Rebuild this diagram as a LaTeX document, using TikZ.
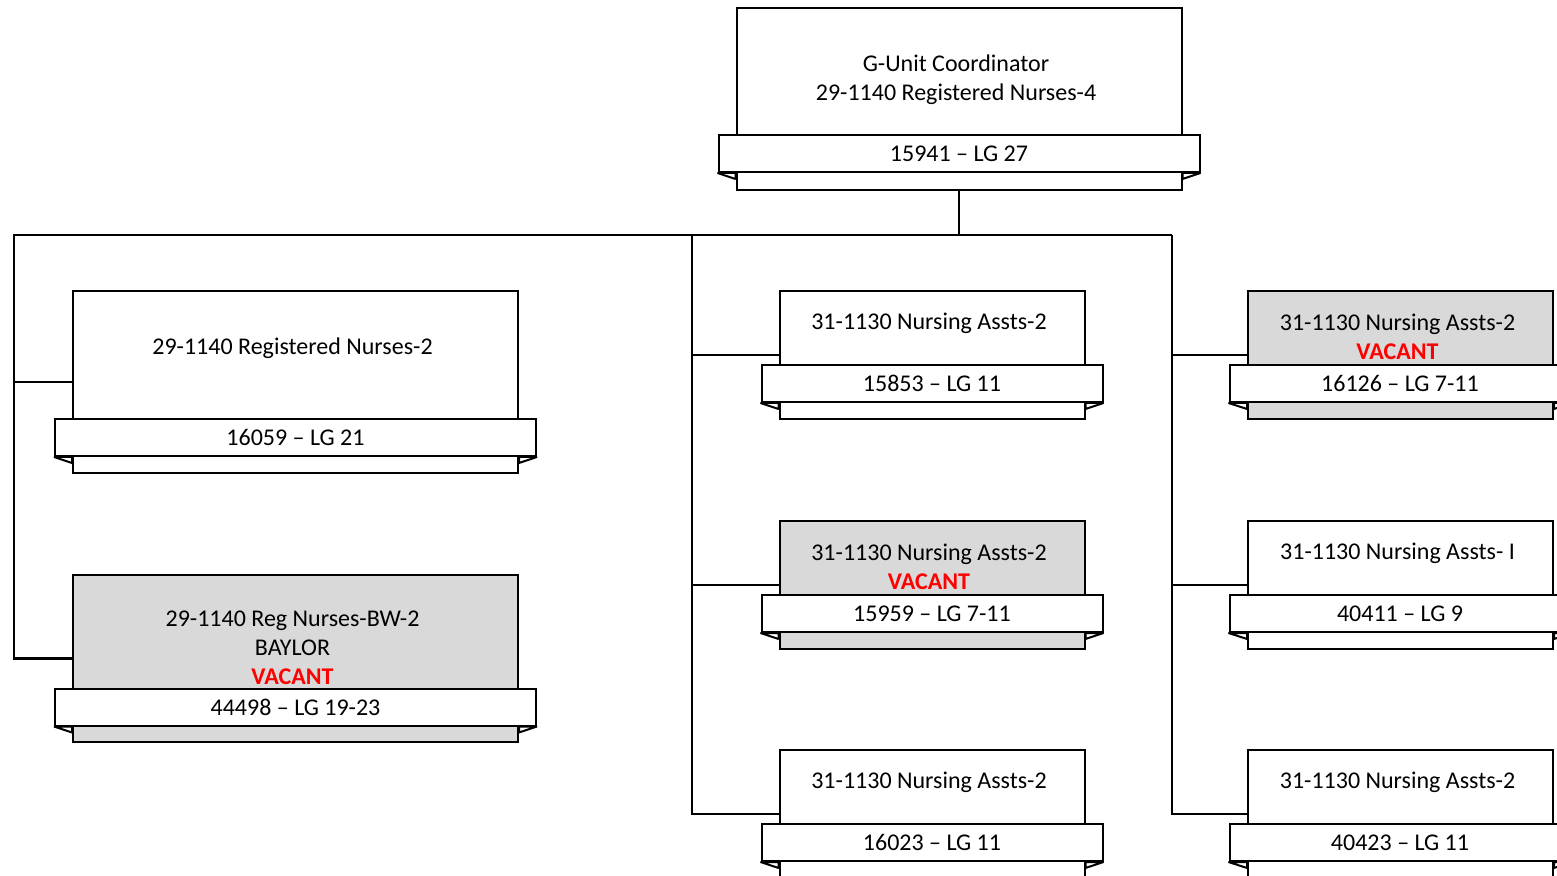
\documentclass[tikz,border=0pt]{standalone}
\usepackage{fontspec}
\setmainfont{Carlito}
\usepackage{xcolor}
\usepackage{tikz}
\usetikzlibrary{positioning,calc}
\definecolor{cardGray}{HTML}{D9D9D9}
\definecolor{vacantRed}{HTML}{FF0000}
\definecolor{lineCol}{HTML}{000000}

\begin{document}
\begin{tikzpicture}[
  x=0.5pt, y=-0.5pt,
  font=\fontsize{12}{14.6}\selectfont,
  card/.style={draw=lineCol, line width=1pt, fill=white, inner sep=0pt},
  vacantcard/.style={card, fill=cardGray},
  wide/.style={minimum width=222.5pt},
  narrow/.style={minimum width=152.5pt},
  banner/.style={draw=lineCol, line width=1pt, fill=white, inner sep=0pt,
                 minimum height=18.5pt},
  bannerwide/.style={banner, minimum width=240.5pt},
  bannernarrow/.style={banner, minimum width=170.5pt},
  txt/.style={align=center, inner sep=0pt},
  flap/.style={draw=lineCol, line width=1pt, fill=white, line join=bevel},
  link/.style={draw=lineCol, line width=1.2pt},
]
\useasboundingbox (0,0) rectangle (1557,876);
\clip (0,0) rectangle (1557,876);

% ---- Connector points ----
\coordinate (busL) at (14,235);
\coordinate (busM) at (692,235);
\coordinate (busR) at (1172,235);

% ---- Top: coordinator ----
\node[card, wide, minimum height=91pt] (coord) at (959,99) {};
\node[txt] (coordTxt) at (956,79.5) {G-Unit Coordinator\\29-1140 Registered Nurses-4};
\node[bannerwide] (coordId) at (959,153.5) {15941 – LG 27};

% ---- Left column: registered nurses ----
\node[card, wide, minimum height=91pt] (rn) at (295.5,382) {};
\node[txt] (rnTxt) at (292.5,348) {29-1140 Registered Nurses-2};
\node[bannerwide] (rnId) at (295.5,437.5) {16059 – LG 21};

\node[vacantcard, wide, minimum height=83.5pt] (bw) at (295.5,658.5) {};
\node[txt] (bwTxt) at (292.5,647.5) {29-1140 Reg Nurses-BW-2\\BAYLOR\\\textcolor{vacantRed}{\textbf{VACANT}}};
\node[bannerwide] (bwId) at (295.5,707) {44498 – LG 19-23};

% ---- Middle column: nursing assistants ----
\node[card, narrow, minimum height=64pt] (na1) at (932,355) {};
\node[txt] (na1Txt) at (929,323) {31-1130 Nursing Assts-2};
\node[bannernarrow] (na1Id) at (932,383.5) {15853 – LG 11};

\node[vacantcard, narrow, minimum height=64pt] (na2) at (932,585) {};
\node[txt] (na2Txt) at (929,566.5) {31-1130 Nursing Assts-2\\\textcolor{vacantRed}{\textbf{VACANT}}};
\node[bannernarrow] (na2Id) at (932,613.5) {15959 – LG 7-11};

\node[card, narrow, minimum height=64pt] (na3) at (932,814) {};
\node[txt] (na3Txt) at (929,782) {31-1130 Nursing Assts-2};
\node[bannernarrow] (na3Id) at (932,842.5) {16023 – LG 11};

% ---- Right column: nursing assistants ----
\node[vacantcard, narrow, minimum height=64pt] (na4) at (1400.5,355) {};
\node[txt] (na4Txt) at (1397.5,336.5) {31-1130 Nursing Assts-2\\\textcolor{vacantRed}{\textbf{VACANT}}};
\node[bannernarrow] (na4Id) at (1400,383.5) {16126 – LG 7-11};

\node[card, narrow, minimum height=64pt] (na5) at (1400.5,585) {};
\node[txt] (na5Txt) at (1397.5,553) {31-1130 Nursing Assts- I};
\node[bannernarrow] (na5Id) at (1400,613.5) {40411 – LG 9};

\node[card, narrow, minimum height=64pt] (na6) at (1400.5,814) {};
\node[txt] (na6Txt) at (1397.5,782) {31-1130 Nursing Assts-2};
\node[bannernarrow] (na6Id) at (1400,842.5) {40423 – LG 11};

% ---- Banner flaps ----
\foreach \m in {coord,rn,bw,na1,na2,na3,na4,na5,na6} {
  \filldraw[flap] (\m Id.south west) -- ($(\m Id.south west -| \m.west)+(0,6)$)
    -- (\m Id.south west -| \m.west) -- cycle;
  \filldraw[flap] (\m Id.south east) -- ($(\m Id.south east -| \m.east)+(0,6)$)
    -- (\m Id.south east -| \m.east) -- cycle;
}

% ---- Connectors ----
\draw[link] (coord.south) -- (coord.south |- busL);
\draw[link] (bw.west) -| (busL) -- (busR);
\draw[link] (busL) |- (rn.west);
\draw[link] (busM) |- (na1.west);
\draw[link] (busM) |- (na2.west);
\draw[link] (busM) |- (na3.west);
\draw[link] (busR) |- (na4.west);
\draw[link] (busR) |- (na5.west);
\draw[link] (busR) |- (na6.west);

\end{tikzpicture}
\end{document}
